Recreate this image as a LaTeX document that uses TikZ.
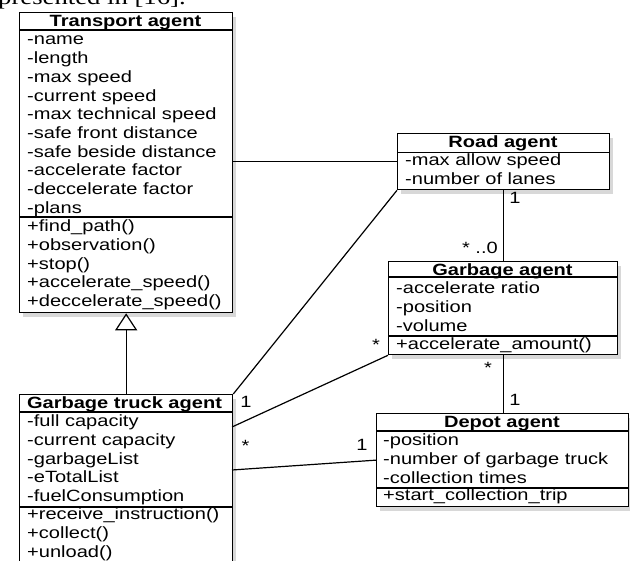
\documentclass[tikz,border=0pt]{standalone}
\usepackage{fontspec}
\setmainfont[FakeStretch=1.23]{Liberation Sans}
\newfontfamily\topserif[FakeStretch=1.23]{Liberation Serif}
\usetikzlibrary{shadows,arrows.meta,calc}
\begin{document}
\begin{tikzpicture}[x=1pt,y=-1pt,
 classbox/.style={draw,line width=1.3pt,fill=white,inner sep=0pt,anchor=north west,
   drop shadow={shadow xshift=3pt,shadow yshift=-4pt,opacity=0.3}},
 sepline/.style={line width=1.2pt},
 txt/.style={anchor=base west,inner sep=0pt,font=\fontsize{16.3}{18.7}\selectfont},
 ttl/.style={anchor=base,inner sep=0pt,font=\fontsize{16.3}{18.7}\selectfont\bfseries},
 mult/.style={anchor=base,inner sep=0pt,font=\fontsize{16.3}{18.7}\selectfont},
 assoc/.style={line width=1.2pt}]
\useasboundingbox (0,0) rectangle (630,561);
\fill[white] (0,0) rectangle (630,561);
\clip (0,0) rectangle (630,561);

\node[anchor=base west,inner sep=0pt,font=\fontsize{21.7}{24}\topserif] (cap) at (-2,4.5) {presented in [16].};

% class boxes
\node[classbox,minimum width=213pt,minimum height=300pt] (ta) at (19,12) {};
\node[classbox,minimum width=212pt,minimum height=56pt] (road) at (397,133) {};
\node[classbox,minimum width=229pt,minimum height=93pt] (garb) at (388,261) {};
\node[classbox,minimum width=252pt,minimum height=93pt] (depot) at (376,413) {};
\node[classbox,minimum width=213pt,minimum height=181pt] (truck) at (19,394) {};

% separators
\draw[sepline] ($(ta.north west)+(0,18)$) -- ($(ta.north east)+(0,18)$);
\draw[sepline] ($(ta.north west)+(0,205)$) -- ($(ta.north east)+(0,205)$);
\draw[sepline] ($(road.north west)+(0,19.7)$) -- ($(road.north east)+(0,19.7)$);
\draw[sepline] ($(garb.north west)+(0,16)$) -- ($(garb.north east)+(0,16)$);
\draw[sepline] ($(garb.north west)+(0,75)$) -- ($(garb.north east)+(0,75)$);
\draw[sepline] ($(depot.north west)+(0,18)$) -- ($(depot.north east)+(0,18)$);
\draw[sepline] ($(depot.north west)+(0,75)$) -- ($(depot.north east)+(0,75)$);
\draw[sepline] ($(truck.north west)+(0,18)$) -- ($(truck.north east)+(0,18)$);
\draw[sepline] ($(truck.north west)+(0,113)$) -- ($(truck.north east)+(0,113)$);

% Transport agent
\node[ttl] (ta-t) at (125.5,26.7) {Transport agent};
\foreach \t [count=\i from 0] in {{-name},{-length},{-max speed},{-current speed},{-max technical speed},{-safe front distance},{-safe beside distance},{-accelerate factor},{-deccelerate factor},{-plans}}
  \node[txt] (ta-a\i) at (27,{45+18.7*\i}) {\t};
\foreach \t [count=\i from 0] in {{+find\_path()},{+observation()},{+stop()},{+accelerate\_speed()},{+deccelerate\_speed()}}
  \node[txt] (ta-m\i) at (27,{231.7+18.7*\i}) {\t};

% Road agent
\node[ttl] (road-t) at (503,147.3) {Road agent};
\node[txt] (road-a0) at (405,165.7) {-max allow speed};
\node[txt] (road-a1) at (405,184.4) {-number of lanes};

% Garbage agent
\node[ttl] (garb-t) at (502.5,275.3) {Garbage agent};
\foreach \t [count=\i from 0] in {{-accelerate ratio},{-position},{-volume}}
  \node[txt] (garb-a\i) at (396,{294+18.7*\i}) {\t};
\node[txt] (garb-m0) at (396,349.3) {+accelerate\_amount()};

% Depot agent
\node[ttl] (depot-t) at (502,427.3) {Depot agent};
\foreach \t [count=\i from 0] in {{-position},{-number of garbage truck},{-collection times}}
  \node[txt] (depot-a\i) at (383,{445.7+18.7*\i}) {\t};
\node[txt] (depot-m0) at (383,501) {+start\_collection\_trip};

% Garbage truck agent
\node[ttl] (truck-t) at (124.5,408.3) {Garbage truck agent};
\foreach \t [count=\i from 0] in {{-full capacity},{-current capacity},{-garbageList},{-eTotalList},{-fuelConsumption}}
  \node[txt] (truck-a\i) at (27,{426.7+18.7*\i}) {\t};
\foreach \t [count=\i from 0] in {{+receive\_instruction()},{+collect()},{+unload()}}
  \node[txt] (truck-m\i) at (27,{520+18.7*\i}) {\t};

% connectors
\coordinate (t1) at (232,427);
\coordinate (t2) at (232,470);
\draw[assoc] (road.west) -- (road.west -| ta.east);
\draw[assoc] (road.south west) -- (truck.north east);
\draw[assoc] (road.south) -- (road.south |- garb.north);
\draw[assoc] (garb.south) -- (garb.south |- depot.north);
\draw[assoc] (t1) -- (garb.south west);
\draw[assoc] (t2) -- (depot.west);
\draw[assoc,-{Triangle[open,width=22pt,length=17pt]}] (truck.north) -- (ta.south);

% multiplicities
\node[mult] (m1) at (246,408) {1};
\node[mult] (m2) at (245.5,452) {*};
\node[mult] (m3) at (362,451) {1};
\node[mult] (m4) at (376,351) {*};
\node[mult] (m5) at (515,204) {1};
\node[mult,anchor=base east] (m6) at (498,253.3) {* ..0};
\node[mult] (m7) at (488,374) {*};
\node[mult] (m8) at (515,406) {1};
\end{tikzpicture}
\end{document}
